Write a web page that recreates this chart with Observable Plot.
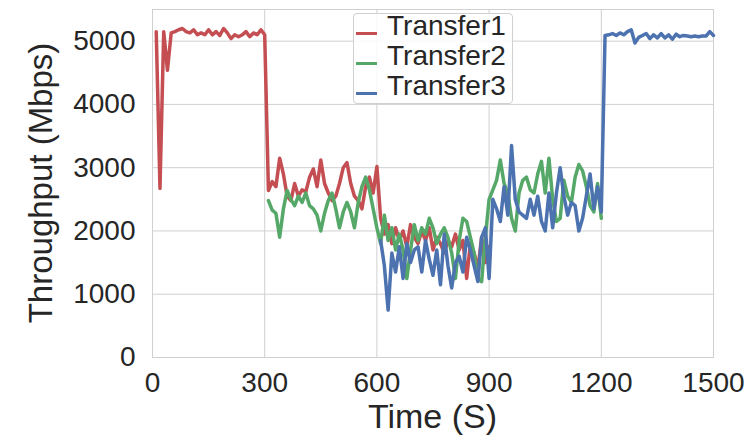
<!DOCTYPE html>
<html>
<head>
<meta charset="utf-8">
<script src="https://cdn.jsdelivr.net/npm/d3@7"></script>
<script src="https://cdn.jsdelivr.net/npm/@observablehq/plot@0.6"></script>
<style>
  body { margin: 0; background: #fff; }
  #wrap { position: relative; width: 754px; height: 435px; font-family: "Liberation Sans", Arial, sans-serif; color: #262626; }
  #legend { position: absolute; left: 353px; top: 13px; width: 158px; height: 89px; border: 1px solid #d0d0d0; border-radius: 4px; background: rgba(255,255,255,0.85); }
  .lg-sw { position: absolute; width: 21px; height: 3px; }
  .lg-tx { position: absolute; font-size: 28px; line-height: 30px; white-space: nowrap; }
</style>
</head>
<body>
<div id="wrap"></div>
<script>
// ---- data ----
const seriesNames = ["Transfer1", "Transfer2", "Transfer3"];
const seriesColors = ["#C44E52", "#55A868", "#4C72B0"];
const seriesStart = [10, 310, 610];   // time (s) of first sample
const sampleStep = 10;                // seconds between samples

const transfer1 = [
  5150, 2670, 5150, 4540, 5130, 5150, 5180, 5200, 5150, 5130,
  5180, 5100, 5130, 5100, 5180, 5100, 5150, 5090, 5200, 5130,
  5040, 5100, 5070, 5100, 5150, 5070, 5130, 5100, 5180, 5100,
  2640, 2780, 2700, 3150, 2900, 2550, 2480, 2750, 2550, 2650,
  2620, 2850, 2980, 2700, 3120, 2750, 2600, 2480, 2550, 2750,
  3000, 3080, 2750, 2550, 2480, 2350, 2700, 2850, 2600, 3020,
  2200, 1950, 2100, 1800, 2050, 1850, 2000, 1750, 2100, 1900,
  1800, 2000, 1850, 2050, 1700, 1900, 1800, 1650, 1850, 1750,
  1950, 1700, 1850, 1250, 1800, 1650, 1400, 1900, 1500, 1750
];
const transfer2 = [
  2480, 2330, 2280, 1900, 2350, 2640, 2500, 2400, 2550, 2450,
  2600, 2400, 2350, 2250, 2000, 2280, 2480, 2600, 2350, 2050,
  2300, 2450, 2300, 2050, 2450, 2700, 2850, 2650, 2350, 2050,
  1800, 2250, 1850, 2050, 1700, 1950, 1700, 1250, 1700, 2100,
  1850, 2050, 1950, 2200, 2050, 1800, 1950, 2050, 1900, 1650,
  1250, 1850, 2200, 2150, 1900, 1650, 1250, 1200, 1900, 2500,
  2650, 2800, 3120, 2750, 2600, 2200, 2000, 2600, 2800, 2850,
  2650, 2600, 2900, 3100, 2600, 3150, 2500, 2150, 2200, 2800,
  2550, 2450, 2850, 3050, 2950, 2700, 2400, 2300, 2750, 2200
];
const transfer3 = [
  1850, 1450, 750, 1650, 1350, 1750, 1250, 1800, 1500, 1700,
  1750, 1350, 1850, 1550, 1300, 1700, 1150, 1950, 1450, 1100,
  1500, 1600, 1350, 1900, 1700, 1450, 1200, 1900, 2050, 1250,
  2500, 2350, 2150, 2700, 2250, 3350, 2500, 2300, 2250, 2200,
  2500, 2250, 2550, 2150, 2000, 2600, 2050, 2600, 3000, 2550,
  2250, 2450, 2400, 2000, 2200, 2550, 2900, 2350, 2700, 2300,
  5090, 5100, 5120, 5090, 5130, 5100, 5150, 5180, 4970, 5060,
  5090, 5120, 5040, 5100, 5050, 5120, 5050, 5100, 5030, 5110,
  5070, 5090, 5080, 5070, 5080, 5070, 5080, 5080, 5150, 5090
];
const seriesValues = [transfer1, transfer2, transfer3];

const xTicks = [0, 300, 600, 900, 1200, 1500];
const yTicks = [0, 1000, 2000, 3000, 4000, 5000];
const xLabel = "Time (S)";
const yLabel = "Throughput (Mbps)";

// ---- build table ----
const rows = [];
seriesValues.forEach((vals, s) => {
  vals.forEach((v, i) => rows.push({series: seriesNames[s], t: seriesStart[s] + i * sampleStep, v}));
});

const W = 754, H = 435;
const mL = 152, mR = 41, mT = 9, mB = 78;
const grid = "#d0d0d0";
const plain = d => String(d);

const chart = Plot.plot({
  width: W, height: H,
  marginLeft: mL, marginRight: mR, marginTop: mT, marginBottom: mB,
  style: {fontFamily: "'Liberation Sans', Arial, sans-serif", color: "#262626", background: "white"},
  x: {domain: [0, 1500]},
  y: {domain: [0, 5500]},
  color: {domain: seriesNames, range: seriesColors},
  marks: [
    Plot.gridX(xTicks, {stroke: grid, strokeOpacity: 1, strokeWidth: 1}),
    Plot.gridY(yTicks, {stroke: grid, strokeOpacity: 1, strokeWidth: 1}),
    Plot.frame({stroke: grid, strokeWidth: 1}),
    Plot.axisX(xTicks, {tickSize: 0, tickPadding: 15, fontSize: 28, label: null, tickFormat: plain}),
    Plot.axisY(yTicks, {tickSize: 0, tickPadding: 17, fontSize: 28, label: null, tickFormat: plain}),
    Plot.lineY(rows, {x: "t", y: "v", z: "series", stroke: "series", strokeWidth: 3.5, strokeLinejoin: "round"})
  ]
});

const wrap = document.getElementById("wrap");
wrap.appendChild(chart);

// axis titles
const svg = d3.select(chart);
svg.append("text")
  .attr("x", (mL + W - mR) / 2).attr("y", 428)
  .attr("text-anchor", "middle").attr("font-size", 34).attr("fill", "#262626")
  .text(xLabel);
svg.append("text")
  .attr("transform", `translate(52,${(mT + H - mB) / 2}) rotate(-90)`)
  .attr("text-anchor", "middle").attr("font-size", 33).attr("fill", "#262626")
  .text(yLabel);

// legend
const lg = document.createElement("div");
lg.id = "legend";
seriesNames.forEach((name, i) => {
  const sw = document.createElement("div");
  sw.className = "lg-sw";
  sw.style.left = "2px";
  sw.style.top = (18 + i * 30) + "px";
  sw.style.background = seriesColors[i];
  lg.appendChild(sw);
  const tx = document.createElement("div");
  tx.className = "lg-tx";
  tx.style.left = "33px";
  tx.style.top = (-3 + i * 30) + "px";
  tx.textContent = name;
  lg.appendChild(tx);
});
wrap.appendChild(lg);
</script>
</body>
</html>
